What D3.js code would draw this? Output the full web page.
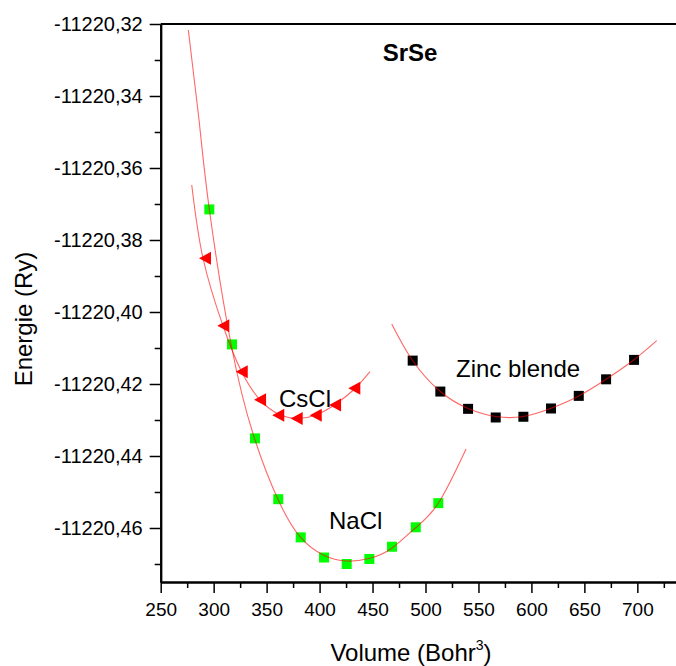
<!DOCTYPE html>
<html>
<head>
<meta charset="utf-8">
<script src="https://cdn.jsdelivr.net/npm/d3@7"></script>
<style>
  body { margin: 0; background: #fff; }
  text { font-family: "Liberation Sans", Arial, sans-serif; }
</style>
</head>
<body>
<div id="chart"></div>
<script>

// NaCl (green squares)
var naclV = [295.9, 317.3, 339.0, 361.0, 382.2, 404.2, 425.6, 447.0, 468.4, 490.8, 512.1];
var naclE = [-11220.3715, -11220.4090, -11220.4351, -11220.4520, -11220.4626, -11220.4682,
             -11220.4700, -11220.4686, -11220.4652, -11220.4598, -11220.4531];

// CsCl (red triangles)
var csclV = [291.8, 309.1, 326.5, 343.8, 361.0, 378.4, 396.4, 414.6, 432.8];
var csclE = [-11220.3851, -11220.4038, -11220.4166, -11220.4244, -11220.4287, -11220.4296,
             -11220.4287, -11220.4258, -11220.4212];

// Zinc blende (black squares)
var zbV = [487.9, 514.0, 540.2, 566.3, 592.4, 618.5, 644.7, 670.5, 696.9];
var zbE = [-11220.4135, -11220.4221, -11220.4269, -11220.4293, -11220.4291, -11220.4268,
           -11220.4233, -11220.4187, -11220.4133];

// fitted curves
var naclFitV = [276.1, 286.2, 295.9, 316.4, 338.1, 361.0, 381.5, 403.5, 425.6, 447.6, 468.1, 490.1, 512.1, 538.3];
var naclFitE = [-11220.32167, -11220.34667, -11220.37147, -11220.40889, -11220.43472, -11220.45222,
                -11220.46242, -11220.4675, -11220.46917, -11220.46842, -11220.46564, -11220.46008,
                -11220.45314, -11220.43806];
var csclFitV = [279.3, 289.9, 308.8, 326.3, 343.8, 361.0, 378.7, 396.6, 414.6, 433.0, 447.6];
var csclFitE = [-11220.36472, -11220.385, -11220.40381, -11220.41653, -11220.42444, -11220.42833,
                -11220.42958, -11220.42861, -11220.42569, -11220.42139, -11220.41658];
var zbFitV = [468.1, 487.9, 514.0, 540.2, 566.3, 592.4, 618.5, 644.7, 670.5, 696.9, 718.3];
var zbFitE = [-11220.40333, -11220.41353, -11220.42208, -11220.42681, -11220.42903, -11220.42903,
              -11220.42675, -11220.42333, -11220.41869, -11220.41325, -11220.40797];

var xMajor = d3.range(250, 701, 50);
var xMinor = d3.range(275, 751, 50);
var yMajor = [-11220.32, -11220.34, -11220.36, -11220.38, -11220.40, -11220.42, -11220.44, -11220.46];
var yMinor = [-11220.33, -11220.35, -11220.37, -11220.39, -11220.41, -11220.43, -11220.45, -11220.47];

var width = 676;
var height = 666;

var svg = d3.select("#chart")
  .append("svg")
  .attr("width", width)
  .attr("height", height);

var x = d3.scaleLinear().domain([250, 750]).range([160.7, 690.3]);
var y = d3.scaleLinear().domain([-11220.475, -11220.32]).range([582, 24]);

function zip(a, b) { return a.map(function(v, i) { return [v, b[i]]; }); }

var fmt = function(d) { return d3.format(".2f")(d).replace("\u2212", "-").replace(".", ","); };

// x axis
var xAxis = svg.append("g")
  .attr("transform", "translate(0,582)")
  .call(d3.axisBottom(x).tickValues(xMajor).tickSize(11).tickSizeOuter(0));
xAxis.selectAll("text")
  .attr("y", 34).attr("dy", 0)
  .style("font-size", "19px").attr("fill", "#000");
svg.append("g")
  .attr("transform", "translate(0,582)")
  .call(d3.axisBottom(x).tickValues(xMinor).tickSize(6).tickFormat("").tickSizeOuter(0));

// y axis
var yAxis = svg.append("g")
  .attr("transform", "translate(160.7,0)")
  .call(d3.axisLeft(y).tickValues(yMajor).tickSize(11).tickSizeOuter(0).tickFormat(fmt));
yAxis.selectAll("text")
  .attr("x", -18)
  .style("font-size", "20px").attr("fill", "#000");
svg.append("g")
  .attr("transform", "translate(160.7,0)")
  .call(d3.axisLeft(y).tickValues(yMinor).tickSize(6).tickFormat("").tickSizeOuter(0));

svg.selectAll(".domain").attr("stroke", "#000").attr("stroke-width", 2);
svg.selectAll(".tick line").attr("stroke", "#000").attr("stroke-width", 1.5);

// top frame line
svg.append("line")
  .attr("x1", x(250)).attr("x2", x(750))
  .attr("y1", y(-11220.32)).attr("y2", y(-11220.32))
  .attr("stroke", "#000").attr("stroke-width", 2);

// axis titles
var xt = svg.append("text")
  .attr("x", 411).attr("y", 661)
  .attr("text-anchor", "middle")
  .style("font-size", "24px")
  .text("Volume (Bohr");
xt.append("tspan").attr("dy", -11).style("font-size", "14px").text("3");
xt.append("tspan").attr("dy", 11).text(")");

svg.append("text")
  .attr("transform", "translate(32,319) rotate(-90)")
  .attr("text-anchor", "middle")
  .style("font-size", "24px")
  .text("Energie (Ry)");

// markers
var sq = 10;
svg.append("g").selectAll("rect")
  .data(zip(naclV, naclE))
  .enter().append("rect")
    .attr("x", function(d) { return x(d[0]) - sq / 2; })
    .attr("y", function(d) { return y(d[1]) - sq / 2; })
    .attr("width", sq).attr("height", sq)
    .attr("fill", "#00ff00");

svg.append("g").selectAll("rect")
  .data(zip(zbV, zbE))
  .enter().append("rect")
    .attr("x", function(d) { return x(d[0]) - sq / 2; })
    .attr("y", function(d) { return y(d[1]) - sq / 2; })
    .attr("width", sq).attr("height", sq)
    .attr("fill", "#000");

svg.append("g").selectAll("path")
  .data(zip(csclV, csclE))
  .enter().append("path")
    .attr("transform", function(d) { return "translate(" + x(d[0]) + "," + y(d[1]) + ")"; })
    .attr("d", "M-6,0L6,-6.5L6,6.5Z")
    .attr("fill", "#ff0000");

// fits
var line = d3.line()
  .x(function(d) { return x(d[0]); })
  .y(function(d) { return y(d[1]); })
  .curve(d3.curveNatural);

[zip(naclFitV, naclFitE), zip(csclFitV, csclFitE), zip(zbFitV, zbFitE)].forEach(function(c) {
  svg.append("path")
    .datum(c)
    .attr("d", line)
    .attr("fill", "none")
    .attr("stroke", "#ff0000")
    .attr("stroke-opacity", 0.6)
    .attr("stroke-width", 1.1);
});

// labels
svg.append("text").attr("x", 279).attr("y", 407).style("font-size", "24px").text("CsCl");
svg.append("text").attr("x", 329).attr("y", 529).style("font-size", "24px").text("NaCl");
svg.append("text").attr("x", 456).attr("y", 377).style("font-size", "24px").text("Zinc blende");
svg.append("text").attr("x", 410).attr("y", 61)
  .attr("text-anchor", "middle")
  .style("font-size", "24px").style("font-weight", "bold")
  .text("SrSe");

</script>
</body>
</html>
